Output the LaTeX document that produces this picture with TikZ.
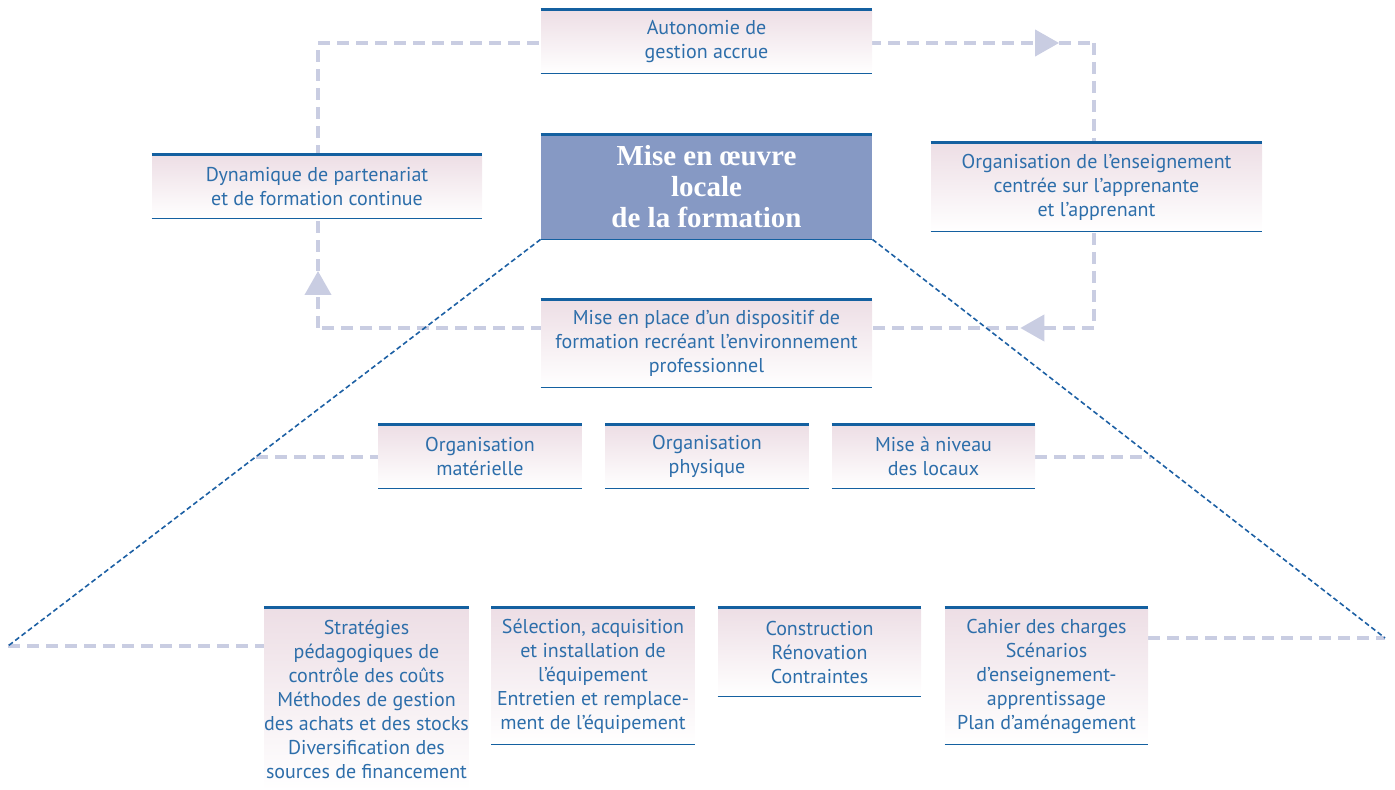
\documentclass[tikz,border=0pt]{standalone}
\usepackage{fontspec}
\setmainfont{PT Sans}
\newfontfamily\titlefont{Liberation Serif}
\usetikzlibrary{arrows.meta,decorations.markings}
\definecolor{topblue}{RGB}{20,96,160}
\definecolor{txtblue}{RGB}{45,110,170}
\definecolor{boxpink}{RGB}{237,222,229}
\definecolor{centrefill}{RGB}{134,153,196}
\definecolor{loopgray}{RGB}{201,205,226}
\definecolor{diagblue}{RGB}{29,96,164}
\pgfdeclarelayer{background}
\pgfsetlayers{background,main}
\tikzset{
  box/.style={rectangle, inner sep=0pt, top color=boxpink, bottom color=white,
    text=txtblue, align=center, font=\fontsize{10}{12}\selectfont},
  wide/.style={minimum width=165.5pt},
  narrow/.style={minimum width=101.5pt},
  centrebox/.style={rectangle, inner sep=0pt, fill=centrefill, text=white, align=center,
    font=\titlefont\bfseries\fontsize{14.5}{15.5}\selectfont, minimum width=165.5pt, minimum height=52pt},
  topline/.style={draw=topblue, line width=1.6pt},
  botline/.style={draw=topblue, line width=0.6pt},
  loopline/.style={draw=loopgray, line width=2pt, dash pattern=on 6pt off 3.5pt},
  diagline/.style={draw=diagblue, line width=0.8pt, dash pattern=on 2.5pt off 1.5pt},
  loopmark/.style={postaction={decorate}, decoration={markings, mark=at position #1 with {\arrow[loopgray]{Triangle[length=12pt,width=13pt]}}}}
}
\begin{document}
\begin{tikzpicture}[x=0.5pt,y=-0.5pt]
\useasboundingbox (0,0) rectangle (1395,790);

% boxes
\node[box,wide,minimum height=31.5pt] (auto) at (706.5,41.5) {Autonomie de\\gestion accrue};
\node[centrebox] (centre) at (706.5,187) {Mise en œuvre\\locale\\de la formation};
\node[box,minimum width=165pt,minimum height=31.5pt] (dyn) at (317,186.5) {Dynamique de partenariat\\et de formation continue};
\node[box,wide,minimum height=44pt] (org) at (1096.5,187) {Organisation de l’enseignement\\centrée sur l’apprenante\\et l’apprenant};
\node[box,wide,minimum height=43.5pt] (place) at (706.5,343.5) {Mise en place d’un dispositif de\\formation recréant l’environnement\\professionnel};
\node[box,narrow,minimum height=31.5pt] (mat) at (480,456.5) {Organisation\\matérielle};
\node[box,narrow,minimum height=31.5pt] (phy) at (707,456.5) {Organisation\\physique};
\node[box,narrow,minimum height=31.5pt] (niv) at (933.5,456.5) {Mise à niveau\\des locaux};
\node[box,narrow,minimum height=91pt] (strat) at (366.5,699) {Stratégies\\pédagogiques de\\contrôle des coûts\\Méthodes de gestion\\des achats et des stocks\\Diversification des\\sources de financement};
\node[box,narrow,minimum height=68pt] (sel) at (593,676) {Sélection, acquisition\\et installation de\\l’équipement\\Entretien et remplace-\\ment de l’équipement};
\node[box,narrow,minimum height=44pt] (cons) at (819.5,652) {Construction\\Rénovation\\Contraintes};
\node[box,narrow,minimum height=68pt] (cah) at (1046.5,676) {Cahier des charges\\Scénarios\\d’enseignement-\\apprentissage\\Plan d’aménagement};

\foreach \n in {auto,centre,dyn,org,place,mat,phy,niv,sel,cons,cah} {
  \draw[topline] (\n.north west) -- (\n.north east);
  \draw[botline] (\n.south west) -- (\n.south east);
}
\draw[topline] (strat.north west) -- (strat.north east);

% connectors
\coordinate (tl) at (318,43);
\coordinate (tr) at (1094,43);
\coordinate (br0) at (1094,328);
\coordinate (bl0) at (318,328);
\coordinate (bl) at (8,646);
\coordinate (br) at (1385,638);
\coordinate (gl) at (256,456.5);
\coordinate (gr) at (1151,456.5);

\begin{pgfonlayer}{background}
\draw[loopline,loopmark=0.955] (tl) -- (tr);
\draw[loopline] (tr) -- (br0);
\draw[loopline,loopmark=0.095] (br0) -- (bl0);
\draw[loopline,loopmark=0.2] (bl0) -- (tl);
\draw[loopline] (gl) -- (mat.west);
\draw[loopline] (niv.east) -- (gr);
\draw[loopline] (bl) -- (bl -| strat.west);
\draw[loopline] (br -| cah.east) -- (br);
\draw[diagline] (centre.south west) -- (bl);
\draw[diagline] (centre.south east) -- (br);
\end{pgfonlayer}
\end{tikzpicture}
\end{document}
